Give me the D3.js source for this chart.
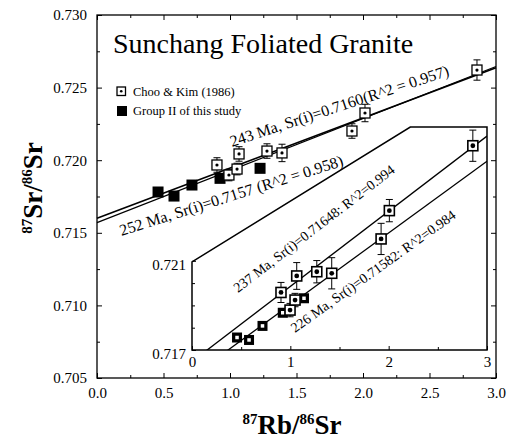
<!DOCTYPE html>
<html><head><meta charset="utf-8">
<script src="https://cdn.jsdelivr.net/npm/d3@7"></script>
<style>
body{margin:0;background:#fff;}
svg{display:block;font-family:"Liberation Serif","Times New Roman",serif;}
</style></head><body>
<svg id="chart" width="507" height="441"></svg>
<script>
// Choo & Kim (1986) whole-rock analyses
const chooX   = [0.902, 0.992, 1.053, 1.068, 1.278, 1.391, 1.917, 2.015, 2.857];
const chooY   = [0.71967, 0.71898, 0.71939, 0.72043, 0.72063, 0.72050, 0.72201, 0.72325, 0.72621];
const chooErr = [0.0005, 0.0004, 0.0004, 0.0005, 0.0005, 0.0006, 0.0005, 0.0006, 0.0007];
// Group II samples of this study
const grpX = [0.459, 0.579, 0.714, 0.925, 1.226];
const grpY = [0.71781, 0.71753, 0.71829, 0.71875, 0.71944];

// Inset panel samples
const insChooX   = [0.905, 0.997, 1.048, 1.065, 1.269, 1.421, 1.923, 2.007, 2.856];
const insChooY   = [0.71958, 0.71879, 0.71924, 0.72032, 0.72051, 0.72044, 0.72198, 0.72325, 0.72616];
const insChooErr = [0.00045, 0.0003, 0.0003, 0.0006, 0.0005, 0.0007, 0.0007, 0.0005, 0.0007];
const insGrpX = [0.458, 0.580, 0.717, 0.923, 1.139];
const insGrpY = [0.71756, 0.71745, 0.71808, 0.71867, 0.71932];

// Isochrons: age (Ma), initial ratio, R^2
const decay = 1.42e-11;
const mainIsochrons = [
  {age: 243, sri: 0.7160, r2: 0.957, width: 1.6},
  {age: 252, sri: 0.7157, r2: 0.958, width: 1.2}
];
const insetIsochrons = [
  {age: 237, sri: 0.71648, r2: 0.994},
  {age: 226, sri: 0.71582, r2: 0.984}
];

// Tick values
const xMajor = [0, 0.5, 1.0, 1.5, 2.0, 2.5, 3.0];
const xMinor = [0.25, 0.75, 1.25, 1.75, 2.25, 2.75];
const yMajor = [0.705, 0.710, 0.715, 0.720, 0.725, 0.730];
const yMinor = [0.7075, 0.7125, 0.7175, 0.7225, 0.7275];
const insXTicks = [0, 1, 2, 3];
const insXMinor = [0.5, 1.5, 2.5];
const insYTicks = [0.717, 0.721];
const insYMinor = [0.718, 0.719, 0.720];

const svg = d3.select("#chart");
const slope = age => Math.exp(decay * age * 1e6) - 1;

// Main panel scales
const x = d3.scaleLinear().domain([0, 3]).range([97, 496]);
const y = d3.scaleLinear().domain([0.705, 0.730]).range([378, 15]);

// frame
svg.append("rect").attr("x", x(0)).attr("y", y(0.730))
  .attr("width", x(3) - x(0)).attr("height", y(0.705) - y(0.730))
  .attr("fill", "none").attr("stroke", "#000").attr("stroke-width", 1.3);

function tickAxis(gen, pos, vals, size, labels, fmt, pad) {
  const g = svg.append("g").attr("transform", pos)
    .call(gen.tickValues(vals).tickSize(size).tickPadding(pad || 8)
      .tickFormat(labels ? fmt : ""));
  g.select(".domain").remove();
  g.selectAll("line").attr("stroke", "#000").attr("stroke-width", 1);
  g.selectAll("text").attr("font-family", "Liberation Serif").attr("font-size", 15).attr("fill", "#000");
  return g;
}
const f1 = d3.format(".1f"), f3 = d3.format(".3f");
tickAxis(d3.axisBottom(x), `translate(0,${y(0.705)})`, xMajor, -5, true, f1, 9);
tickAxis(d3.axisBottom(x), `translate(0,${y(0.705)})`, xMinor, -3, false);
tickAxis(d3.axisTop(x), `translate(0,${y(0.730)})`, xMajor, -5, false);
tickAxis(d3.axisTop(x), `translate(0,${y(0.730)})`, xMinor, -3, false);
tickAxis(d3.axisLeft(y), `translate(${x(0)},0)`, yMajor, -5, true, f3, 10);
tickAxis(d3.axisLeft(y), `translate(${x(0)},0)`, yMinor, -3, false);
tickAxis(d3.axisRight(y), `translate(${x(3)},0)`, yMajor, -5, false);
tickAxis(d3.axisRight(y), `translate(${x(3)},0)`, yMinor, -3, false);

// Title
svg.append("text").attr("x", x(0.12)).attr("y", y(0.7274))
  .attr("font-size", 28).text("Sunchang Foliated Granite");

// Main isochron lines
mainIsochrons.forEach(d => {
  const k = slope(d.age);
  svg.append("line")
    .attr("x1", x(0)).attr("y1", y(d.sri))
    .attr("x2", x(3)).attr("y2", y(d.sri + 3 * k))
    .attr("stroke", "#000").attr("stroke-width", d.width);
});

// Error bars + markers
function errBars(sx, sy, xs, ys, es, cap) {
  xs.forEach((v, i) => {
    const g = svg.append("g").attr("stroke", "#000").attr("stroke-width", 1);
    const cx = sx(v), top = sy(ys[i] + es[i]), bot = sy(ys[i] - es[i]);
    g.append("line").attr("x1", cx).attr("x2", cx).attr("y1", top).attr("y2", bot);
    g.append("line").attr("x1", cx - cap).attr("x2", cx + cap).attr("y1", top).attr("y2", top);
    g.append("line").attr("x1", cx - cap).attr("x2", cx + cap).attr("y1", bot).attr("y2", bot);
  });
}
function dotSquares(sx, sy, xs, ys, size, sw, dotR) {
  xs.forEach((v, i) => {
    const cx = sx(v), cy = sy(ys[i]);
    svg.append("rect").attr("x", cx - size / 2).attr("y", cy - size / 2)
      .attr("width", size).attr("height", size)
      .attr("fill", "#fff").attr("stroke", "#000").attr("stroke-width", sw);
    svg.append("circle").attr("cx", cx).attr("cy", cy).attr("r", dotR).attr("fill", "#000");
  });
}
function filledSquares(sx, sy, xs, ys, size, hole) {
  xs.forEach((v, i) => {
    const cx = sx(v), cy = sy(ys[i]);
    svg.append("rect").attr("x", cx - size / 2).attr("y", cy - size / 2)
      .attr("width", size).attr("height", size).attr("fill", "#000");
    if (hole) svg.append("rect").attr("x", cx - hole / 2).attr("y", cy - hole / 2)
      .attr("width", hole).attr("height", hole).attr("fill", "#fff");
  });
}

filledSquares(x, y, grpX, grpY, 11, 0);
errBars(x, y, chooX, chooY, chooErr, 3.5);
dotSquares(x, y, chooX, chooY, 10, 1.3, 1.6);

// Isochron annotations (start anchor in data units, baseline angle in degrees)
const mainNotes = [
  {text: "243 Ma, Sr(i)=0.7160(R^2 = 0.957)", x: 1.015, y: 0.72091, angle: 18.2},
  {text: "252 Ma, Sr(i)=0.7157 (R^2 = 0.958)", x: 0.185, y: 0.71478, angle: 17.6}
];
mainNotes.forEach(n => {
  svg.append("text").attr("transform", `translate(${x(n.x)},${y(n.y)}) rotate(${-n.angle})`)
    .attr("font-size", 16).text(n.text);
});

// Legend
const leg = svg.append("g").attr("font-size", 12.5);
leg.append("rect").attr("x", 117).attr("y", 87).attr("width", 8.5).attr("height", 8.5)
  .attr("fill", "#fff").attr("stroke", "#000").attr("stroke-width", 1.3);
leg.append("circle").attr("cx", 121.25).attr("cy", 91.25).attr("r", 1.3);
leg.append("text").attr("x", 133).attr("y", 96).text("Choo & Kim (1986)");
leg.append("rect").attr("x", 117).attr("y", 106).attr("width", 10).attr("height", 10).attr("fill", "#000");
leg.append("text").attr("x", 133).attr("y", 115).text("Group II of this study");

// Inset panel
const xi = d3.scaleLinear().domain([0, 3]).range([192, 487]);
const yi = d3.scaleLinear().domain([0.717, 0.721]).range([350, 260.8]);
const insetOutline = [[0, 0.717], [0, 0.72095], [2.22, 0.7270], [3, 0.7270], [3, 0.717]];
const outlinePath = d3.line().x(d => xi(d[0])).y(d => yi(d[1]))(insetOutline) + "Z";
svg.append("defs").append("clipPath").attr("id", "insClip")
  .append("path").attr("d", outlinePath);
svg.append("path").attr("d", outlinePath).attr("fill", "#fff");

tickAxis(d3.axisBottom(xi), `translate(0,${yi(0.717)})`, insXTicks, -4, true, d3.format("d"), 6);
tickAxis(d3.axisBottom(xi), `translate(0,${yi(0.717)})`, insXMinor, -3, false);
const insY = tickAxis(d3.axisLeft(yi), `translate(${xi(0)},0)`, insYTicks, -4, true, f3, 6);
insY.selectAll("text").attr("dy", "0.55em");
tickAxis(d3.axisLeft(yi), `translate(${xi(0)},0)`, insYMinor, -3, false);

const insLines = svg.append("g").attr("clip-path", "url(#insClip)");
insetIsochrons.forEach(d => {
  const k = slope(d.age);
  insLines.append("line")
    .attr("x1", xi(0)).attr("y1", yi(d.sri))
    .attr("x2", xi(3)).attr("y2", yi(d.sri + 3 * k))
    .attr("stroke", "#000").attr("stroke-width", 1.3);
});
svg.append("path").attr("d", outlinePath).attr("fill", "none")
  .attr("stroke", "#000").attr("stroke-width", 1.5);

filledSquares(xi, yi, insGrpX, insGrpY, 10, 3.5);
errBars(xi, yi, insChooX, insChooY, insChooErr, 3.5);
dotSquares(xi, yi, insChooX, insChooY, 10, 1.6, 2.4);

const insetNotes = [
  {text: "237 Ma, Sr(i)=0.71648: R^2=0.994", x: 0.468, y: 0.71956, angle: 37.5},
  {text: "226 Ma, Sr(i)=0.71582: R^2=0.984", x: 1.048, y: 0.71776, angle: 35.6}
];
insetNotes.forEach(n => {
  svg.append("text").attr("transform", `translate(${xi(n.x)},${yi(n.y)}) rotate(${-n.angle})`)
    .attr("font-size", 14).text(n.text);
});

// Axis titles
const xt = svg.append("text").attr("x", 292).attr("y", 434).attr("text-anchor", "middle")
  .attr("font-weight", "bold").attr("font-size", 27);
xt.append("tspan").attr("font-size", 15).attr("dy", -10).text("87");
xt.append("tspan").attr("dy", 10).text("Rb/");
xt.append("tspan").attr("font-size", 15).attr("dy", -10).text("86");
xt.append("tspan").attr("dy", 10).text("Sr");

const yt = svg.append("text").attr("transform", "translate(42,188) rotate(-90)")
  .attr("text-anchor", "middle").attr("font-weight", "bold").attr("font-size", 27);
yt.append("tspan").attr("font-size", 15).attr("dy", -10).text("87");
yt.append("tspan").attr("dy", 10).text("Sr/");
yt.append("tspan").attr("font-size", 15).attr("dy", -10).text("86");
yt.append("tspan").attr("dy", 10).text("Sr");
</script>
</body></html>
